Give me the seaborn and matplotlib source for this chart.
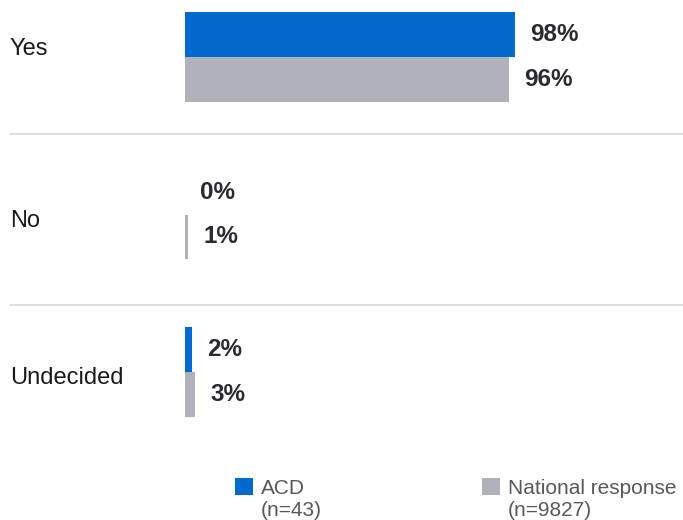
import pandas as pd
import matplotlib
matplotlib.use("Agg")
import matplotlib.pyplot as plt
import matplotlib.transforms as mtransforms
from matplotlib.patches import Patch
import seaborn as sns

# chart data
answers = ["Yes", "No", "Undecided"]
acd_pct = [98, 0, 2]
national_pct = [96, 1, 3]
groups = ["ACD", "National response"]
group_n = ["(n=43)", "(n=9827)"]

colors = ["#0069CD", "#B1B1BB"]
label_color = "#2A2A33"

sns.set_theme(style="white")
plt.rcParams["font.family"] = ["Liberation Sans", "DejaVu Sans"]

df = pd.DataFrame({
    "answer": answers * 2,
    "pct": acd_pct + national_pct,
    "group": [groups[0]] * len(answers) + [groups[1]] * len(answers),
})

fig = plt.figure(figsize=(6.83, 5.2), dpi=100)
ax = fig.add_axes([185 / 683, 70 / 520, 337 / 683, 450 / 520])

sns.barplot(data=df, y="answer", x="pct", hue="group", orient="h",
            palette=colors, width=0.57, ax=ax, legend=False,
            order=answers, hue_order=groups, saturation=1, linewidth=0)

ax.set_xlim(0, 100)
ax.set_ylim(2.495, -0.362)
ax.set_xlabel("")
ax.set_ylabel("")
ax.set_xticks([])
ax.set_yticks([])
for s in ax.spines.values():
    s.set_visible(False)

# value labels
for cont, vals in zip(ax.containers, [acd_pct, national_pct]):
    ax.bar_label(cont, labels=[f"{v}%" for v in vals], padding=11,
                 fontsize=17.5, fontweight="bold", color=label_color)

# category labels on the far left
trans = mtransforms.blended_transform_factory(fig.transFigure, ax.transData)
label_shift = [-0.05, 0.04, 0.04]
for i, a in enumerate(answers):
    ax.text(10 / 683, i + label_shift[i], a, transform=trans, ha="left",
            va="center", fontsize=17, color="#1A1A1A")

# separator lines across the figure
for y in [0.49, 1.575]:
    ax.plot([10 / 683, 1], [y, y], transform=trans, color="#D9D9D9",
            lw=1.2, clip_on=False)

# legend
handles = [Patch(facecolor=c, edgecolor="none") for c in colors]
leg = fig.legend(handles, groups, loc="upper left", ncol=2,
                 bbox_to_anchor=(235 / 683, 1 - 478 / 520), frameon=False,
                 fontsize=15, handlelength=0.87, handleheight=0.87,
                 handletextpad=0.38, columnspacing=8.5, borderpad=0,
                 borderaxespad=0)
for t in leg.get_texts():
    t.set_color("#595959")

fig.canvas.draw()
inv = fig.transFigure.inverted()
for t, n in zip(leg.get_texts(), group_n):
    bb = t.get_window_extent()
    x, y = inv.transform((bb.x0, bb.y0 - 3))
    fig.text(x, y, n, ha="left", va="top", fontsize=15, color="#595959")

fig.savefig("out.png", dpi=100)
